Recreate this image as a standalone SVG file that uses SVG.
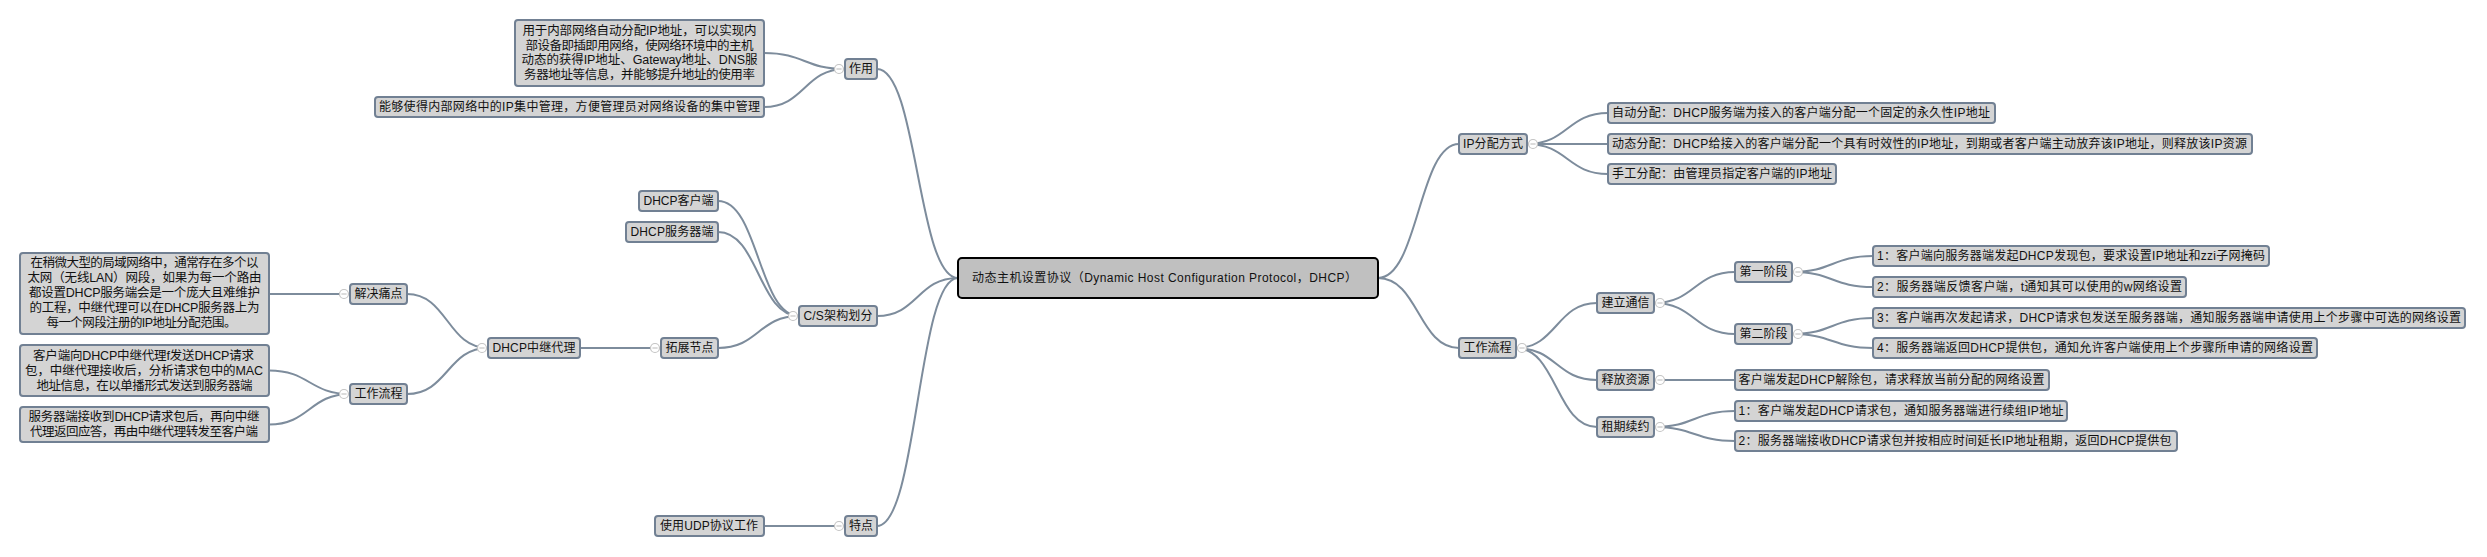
<svg xmlns="http://www.w3.org/2000/svg" width="2487" height="557" viewBox="0 0 2487 557">
<style>
.bg{fill:#ffffff}
.box{fill:#d4d4d4;stroke:#718093;stroke-width:2}
.root{fill:#c0c0c0;stroke:#000;stroke-width:2}
.t{font-family:"Liberation Sans","Noto Sans CJK SC",sans-serif;font-size:12px;fill:#111;dominant-baseline:central}
.m{font-size:12.5px;text-anchor:middle}
.link{fill:none;stroke:#7d8c9c;stroke-width:2}
</style>
<defs>
<g id="minus"><circle r="4.5" fill="#ffffff" stroke="#c4c4c4" stroke-width="1.2"/><line x1="-2.6" y1="0" x2="2.6" y2="0" stroke="#c4c4c4" stroke-width="1.2"/></g>
</defs>
<rect class="bg" x="0" y="0" width="2487" height="557"/>

<g id="connectors">
<path class="link" d="M958,278 C917.5,278 917.5,69 877,69"/>
<path class="link" d="M958,278 C917.5,278 917.5,316 877,316"/>
<path class="link" d="M958,278 C917.5,278 917.5,526 877,526"/>
<path class="link" d="M1378,278 C1418.5,278 1418.5,144 1459,144"/>
<path class="link" d="M1378,278 C1418.5,278 1418.5,348 1459,348"/>
<path class="link" d="M845,69 C804.5,69 804.5,53 764,53"/>
<path class="link" d="M845,69 C804.5,69 804.5,107 764,107"/>
<path class="link" d="M799,316 C758.5,316 758.5,201 718,201"/>
<path class="link" d="M799,316 C758.5,316 758.5,232 718,232"/>
<path class="link" d="M799,316 C758.5,316 758.5,348 718,348"/>
<path class="link" d="M661,348 L580,348"/>
<path class="link" d="M488,348 C447.5,348 447.5,294 407,294"/>
<path class="link" d="M488,348 C447.5,348 447.5,394 407,394"/>
<path class="link" d="M350,294 L269,294"/>
<path class="link" d="M350,394 C309.5,394 309.5,370.5 269,370.5"/>
<path class="link" d="M350,394 C309.5,394 309.5,424.5 269,424.5"/>
<path class="link" d="M845,526 L764,526"/>
<path class="link" d="M1527,144 C1567.5,144 1567.5,113 1608,113"/>
<path class="link" d="M1527,144 L1608,144"/>
<path class="link" d="M1527,144 C1567.5,144 1567.5,174 1608,174"/>
<path class="link" d="M1516,348 C1556.5,348 1556.5,303 1597,303"/>
<path class="link" d="M1516,348 C1556.5,348 1556.5,380 1597,380"/>
<path class="link" d="M1516,348 C1556.5,348 1556.5,427 1597,427"/>
<path class="link" d="M1654,303 C1694.5,303 1694.5,272 1735,272"/>
<path class="link" d="M1654,303 C1694.5,303 1694.5,334 1735,334"/>
<path class="link" d="M1792,272 C1832.5,272 1832.5,256 1873,256"/>
<path class="link" d="M1792,272 C1832.5,272 1832.5,287 1873,287"/>
<path class="link" d="M1792,334 C1832.5,334 1832.5,318 1873,318"/>
<path class="link" d="M1792,334 C1832.5,334 1832.5,348 1873,348"/>
<path class="link" d="M1654,380 L1735,380"/>
<path class="link" d="M1654,427 C1694.5,427 1694.5,411 1735,411"/>
<path class="link" d="M1654,427 C1694.5,427 1694.5,441 1735,441"/>
</g>

<g id="root">
<rect class="root" x="958" y="258" width="420" height="40" rx="4"/>
<text class="t" x="972" y="278" font-size="13" textLength="385" lengthAdjust="spacing">动态主机设置协议（Dynamic Host Configuration Protocol，DHCP）</text>
</g>

<g id="n-zuoyong">
<rect class="box" x="845" y="59" width="32" height="20" rx="3"/>
<text class="t" x="849" y="69">作用</text>
</g>
<g id="n-zuoyong-1">
<rect class="box" x="515" y="20" width="249" height="66" rx="3"/>
<text class="t m" x="639.5" y="31" textLength="234" lengthAdjust="spacing">用于内部网络自动分配IP地址，可以实现内</text>
<text class="t m" x="639.5" y="45.5" textLength="228" lengthAdjust="spacing">部设备即插即用网络，使网络环境中的主机</text>
<text class="t m" x="639.5" y="60" textLength="236" lengthAdjust="spacing">动态的获得IP地址、Gateway地址、DNS服</text>
<text class="t m" x="639.5" y="74.5" textLength="231" lengthAdjust="spacing">务器地址等信息，并能够提升地址的使用率</text>
</g>
<g id="n-zuoyong-2">
<rect class="box" x="375" y="97" width="389" height="20" rx="3"/>
<text class="t" x="379" y="107" textLength="381" lengthAdjust="spacing">能够使得内部网络中的IP集中管理，方便管理员对网络设备的集中管理</text>
</g>

<g id="n-cs">
<rect class="box" x="799" y="306" width="78" height="20" rx="3"/>
<text class="t" x="803.5" y="316" textLength="69" lengthAdjust="spacing">C/S架构划分</text>
</g>
<g id="n-client">
<rect class="box" x="639" y="191" width="79" height="20" rx="3"/>
<text class="t" x="643.5" y="201" textLength="70" lengthAdjust="spacing">DHCP客户端</text>
</g>
<g id="n-server">
<rect class="box" x="626" y="222" width="92" height="20" rx="3"/>
<text class="t" x="630.5" y="232" textLength="83" lengthAdjust="spacing">DHCP服务器端</text>
</g>
<g id="n-ext">
<rect class="box" x="661" y="338" width="57" height="20" rx="3"/>
<text class="t" x="665.5" y="348">拓展节点</text>
</g>
<g id="n-relay">
<rect class="box" x="488" y="338" width="92" height="20" rx="3"/>
<text class="t" x="492.5" y="348" textLength="83" lengthAdjust="spacing">DHCP中继代理</text>
</g>
<g id="n-pain">
<rect class="box" x="350" y="284" width="57" height="20" rx="3"/>
<text class="t" x="354.5" y="294">解决痛点</text>
</g>
<g id="n-pain-1">
<rect class="box" x="20" y="253" width="249" height="81" rx="3"/>
<text class="t m" x="144.5" y="263" textLength="228" lengthAdjust="spacing">在稍微大型的局域网络中，通常存在多个以</text>
<text class="t m" x="144.5" y="278" textLength="234" lengthAdjust="spacing">太网（无线LAN）网段，如果为每一个路由</text>
<text class="t m" x="144.5" y="293" textLength="231" lengthAdjust="spacing">都设置DHCP服务端会是一个庞大且难维护</text>
<text class="t m" x="144.5" y="308" textLength="230" lengthAdjust="spacing">的工程，中继代理可以在DHCP服务器上为</text>
<text class="t m" x="141.5" y="323" textLength="190" lengthAdjust="spacing">每一个网段注册的IP地址分配范围。</text>
</g>
<g id="n-flowL">
<rect class="box" x="350" y="384" width="57" height="20" rx="3"/>
<text class="t" x="354.5" y="394">工作流程</text>
</g>
<g id="n-flowL-1">
<rect class="box" x="20" y="345" width="249" height="51" rx="3"/>
<text class="t m" x="143.5" y="356" textLength="221" lengthAdjust="spacing">客户端向DHCP中继代理f发送DHCP请求</text>
<text class="t m" x="144" y="371" textLength="238" lengthAdjust="spacing">包，中继代理接收后，分析请求包中的MAC</text>
<text class="t m" x="144.5" y="386" textLength="216" lengthAdjust="spacing">地址信息，在以单播形式发送到服务器端</text>
</g>
<g id="n-flowL-2">
<rect class="box" x="20" y="407" width="249" height="35" rx="3"/>
<text class="t m" x="144" y="417" textLength="231" lengthAdjust="spacing">服务器端接收到DHCP请求包后，再向中继</text>
<text class="t m" x="144" y="432" textLength="228" lengthAdjust="spacing">代理返回应答，再由中继代理转发至客户端</text>
</g>

<g id="n-feature">
<rect class="box" x="845" y="516" width="32" height="20" rx="3"/>
<text class="t" x="849" y="526">特点</text>
</g>
<g id="n-udp">
<rect class="box" x="655" y="516" width="109" height="20" rx="3"/>
<text class="t" x="660" y="526" textLength="98" lengthAdjust="spacing">使用UDP协议工作</text>
</g>

<g id="n-ip">
<rect class="box" x="1459" y="134" width="68" height="20" rx="3"/>
<text class="t" x="1463" y="144" textLength="60" lengthAdjust="spacing">IP分配方式</text>
</g>
<g id="n-ip-1">
<rect class="box" x="1608" y="103" width="387" height="20" rx="3"/>
<text class="t" x="1612" y="113" textLength="378" lengthAdjust="spacing">自动分配：DHCP服务端为接入的客户端分配一个固定的永久性IP地址</text>
</g>
<g id="n-ip-2">
<rect class="box" x="1608" y="134" width="644" height="20" rx="3"/>
<text class="t" x="1612" y="144" textLength="635" lengthAdjust="spacing">动态分配：DHCP给接入的客户端分配一个具有时效性的IP地址，到期或者客户端主动放弃该IP地址，则释放该IP资源</text>
</g>
<g id="n-ip-3">
<rect class="box" x="1608" y="164" width="228" height="20" rx="3"/>
<text class="t" x="1612" y="174" textLength="220" lengthAdjust="spacing">手工分配：由管理员指定客户端的IP地址</text>
</g>

<g id="n-flowR">
<rect class="box" x="1459" y="338" width="57" height="20" rx="3"/>
<text class="t" x="1463.5" y="348">工作流程</text>
</g>
<g id="n-build">
<rect class="box" x="1597" y="293" width="57" height="20" rx="3"/>
<text class="t" x="1601.5" y="303">建立通信</text>
</g>
<g id="n-stage1">
<rect class="box" x="1735" y="262" width="57" height="20" rx="3"/>
<text class="t" x="1739.5" y="272">第一阶段</text>
</g>
<g id="n-stage2">
<rect class="box" x="1735" y="324" width="57" height="20" rx="3"/>
<text class="t" x="1739.5" y="334">第二阶段</text>
</g>
<g id="n-step1">
<rect class="box" x="1873" y="246" width="396" height="20" rx="3"/>
<text class="t" x="1877" y="256" textLength="388" lengthAdjust="spacing">1：客户端向服务器端发起DHCP发现包，要求设置IP地址和zzi子网掩码</text>
</g>
<g id="n-step2">
<rect class="box" x="1873" y="277" width="313" height="20" rx="3"/>
<text class="t" x="1877" y="287" textLength="305" lengthAdjust="spacing">2：服务器端反馈客户端，t通知其可以使用的w网络设置</text>
</g>
<g id="n-step3">
<rect class="box" x="1873" y="308" width="592" height="20" rx="3"/>
<text class="t" x="1877" y="318" textLength="584" lengthAdjust="spacing">3：客户端再次发起请求，DHCP请求包发送至服务器端，通知服务器端申请使用上个步骤中可选的网络设置</text>
</g>
<g id="n-step4">
<rect class="box" x="1873" y="338" width="444" height="20" rx="3"/>
<text class="t" x="1877" y="348" textLength="436" lengthAdjust="spacing">4：服务器端返回DHCP提供包，通知允许客户端使用上个步骤所申请的网络设置</text>
</g>
<g id="n-release">
<rect class="box" x="1597" y="370" width="57" height="20" rx="3"/>
<text class="t" x="1601.5" y="380">释放资源</text>
</g>
<g id="n-release-1">
<rect class="box" x="1735" y="370" width="314" height="20" rx="3"/>
<text class="t" x="1738.5" y="380" textLength="306" lengthAdjust="spacing">客户端发起DHCP解除包，请求释放当前分配的网络设置</text>
</g>
<g id="n-lease">
<rect class="box" x="1597" y="417" width="57" height="20" rx="3"/>
<text class="t" x="1601.5" y="427">租期续约</text>
</g>
<g id="n-lease-1">
<rect class="box" x="1735" y="401" width="332" height="20" rx="3"/>
<text class="t" x="1738.5" y="411" textLength="325" lengthAdjust="spacing">1：客户端发起DHCP请求包，通知服务器端进行续组IP地址</text>
</g>
<g id="n-lease-2">
<rect class="box" x="1735" y="431" width="442" height="20" rx="3"/>
<text class="t" x="1738.5" y="441" textLength="433" lengthAdjust="spacing">2：服务器端接收DHCP请求包并按相应时间延长IP地址租期，返回DHCP提供包</text>
</g>

<g id="collapse">
<use href="#minus" x="839" y="69"/>
<use href="#minus" x="793" y="316"/>
<use href="#minus" x="655" y="348"/>
<use href="#minus" x="482" y="348"/>
<use href="#minus" x="344" y="294"/>
<use href="#minus" x="344" y="394"/>
<use href="#minus" x="839" y="526"/>
<use href="#minus" x="1533" y="144"/>
<use href="#minus" x="1522" y="348"/>
<use href="#minus" x="1660" y="303"/>
<use href="#minus" x="1798" y="272"/>
<use href="#minus" x="1798" y="334"/>
<use href="#minus" x="1660" y="380"/>
<use href="#minus" x="1660" y="427"/>
</g>
</svg>
